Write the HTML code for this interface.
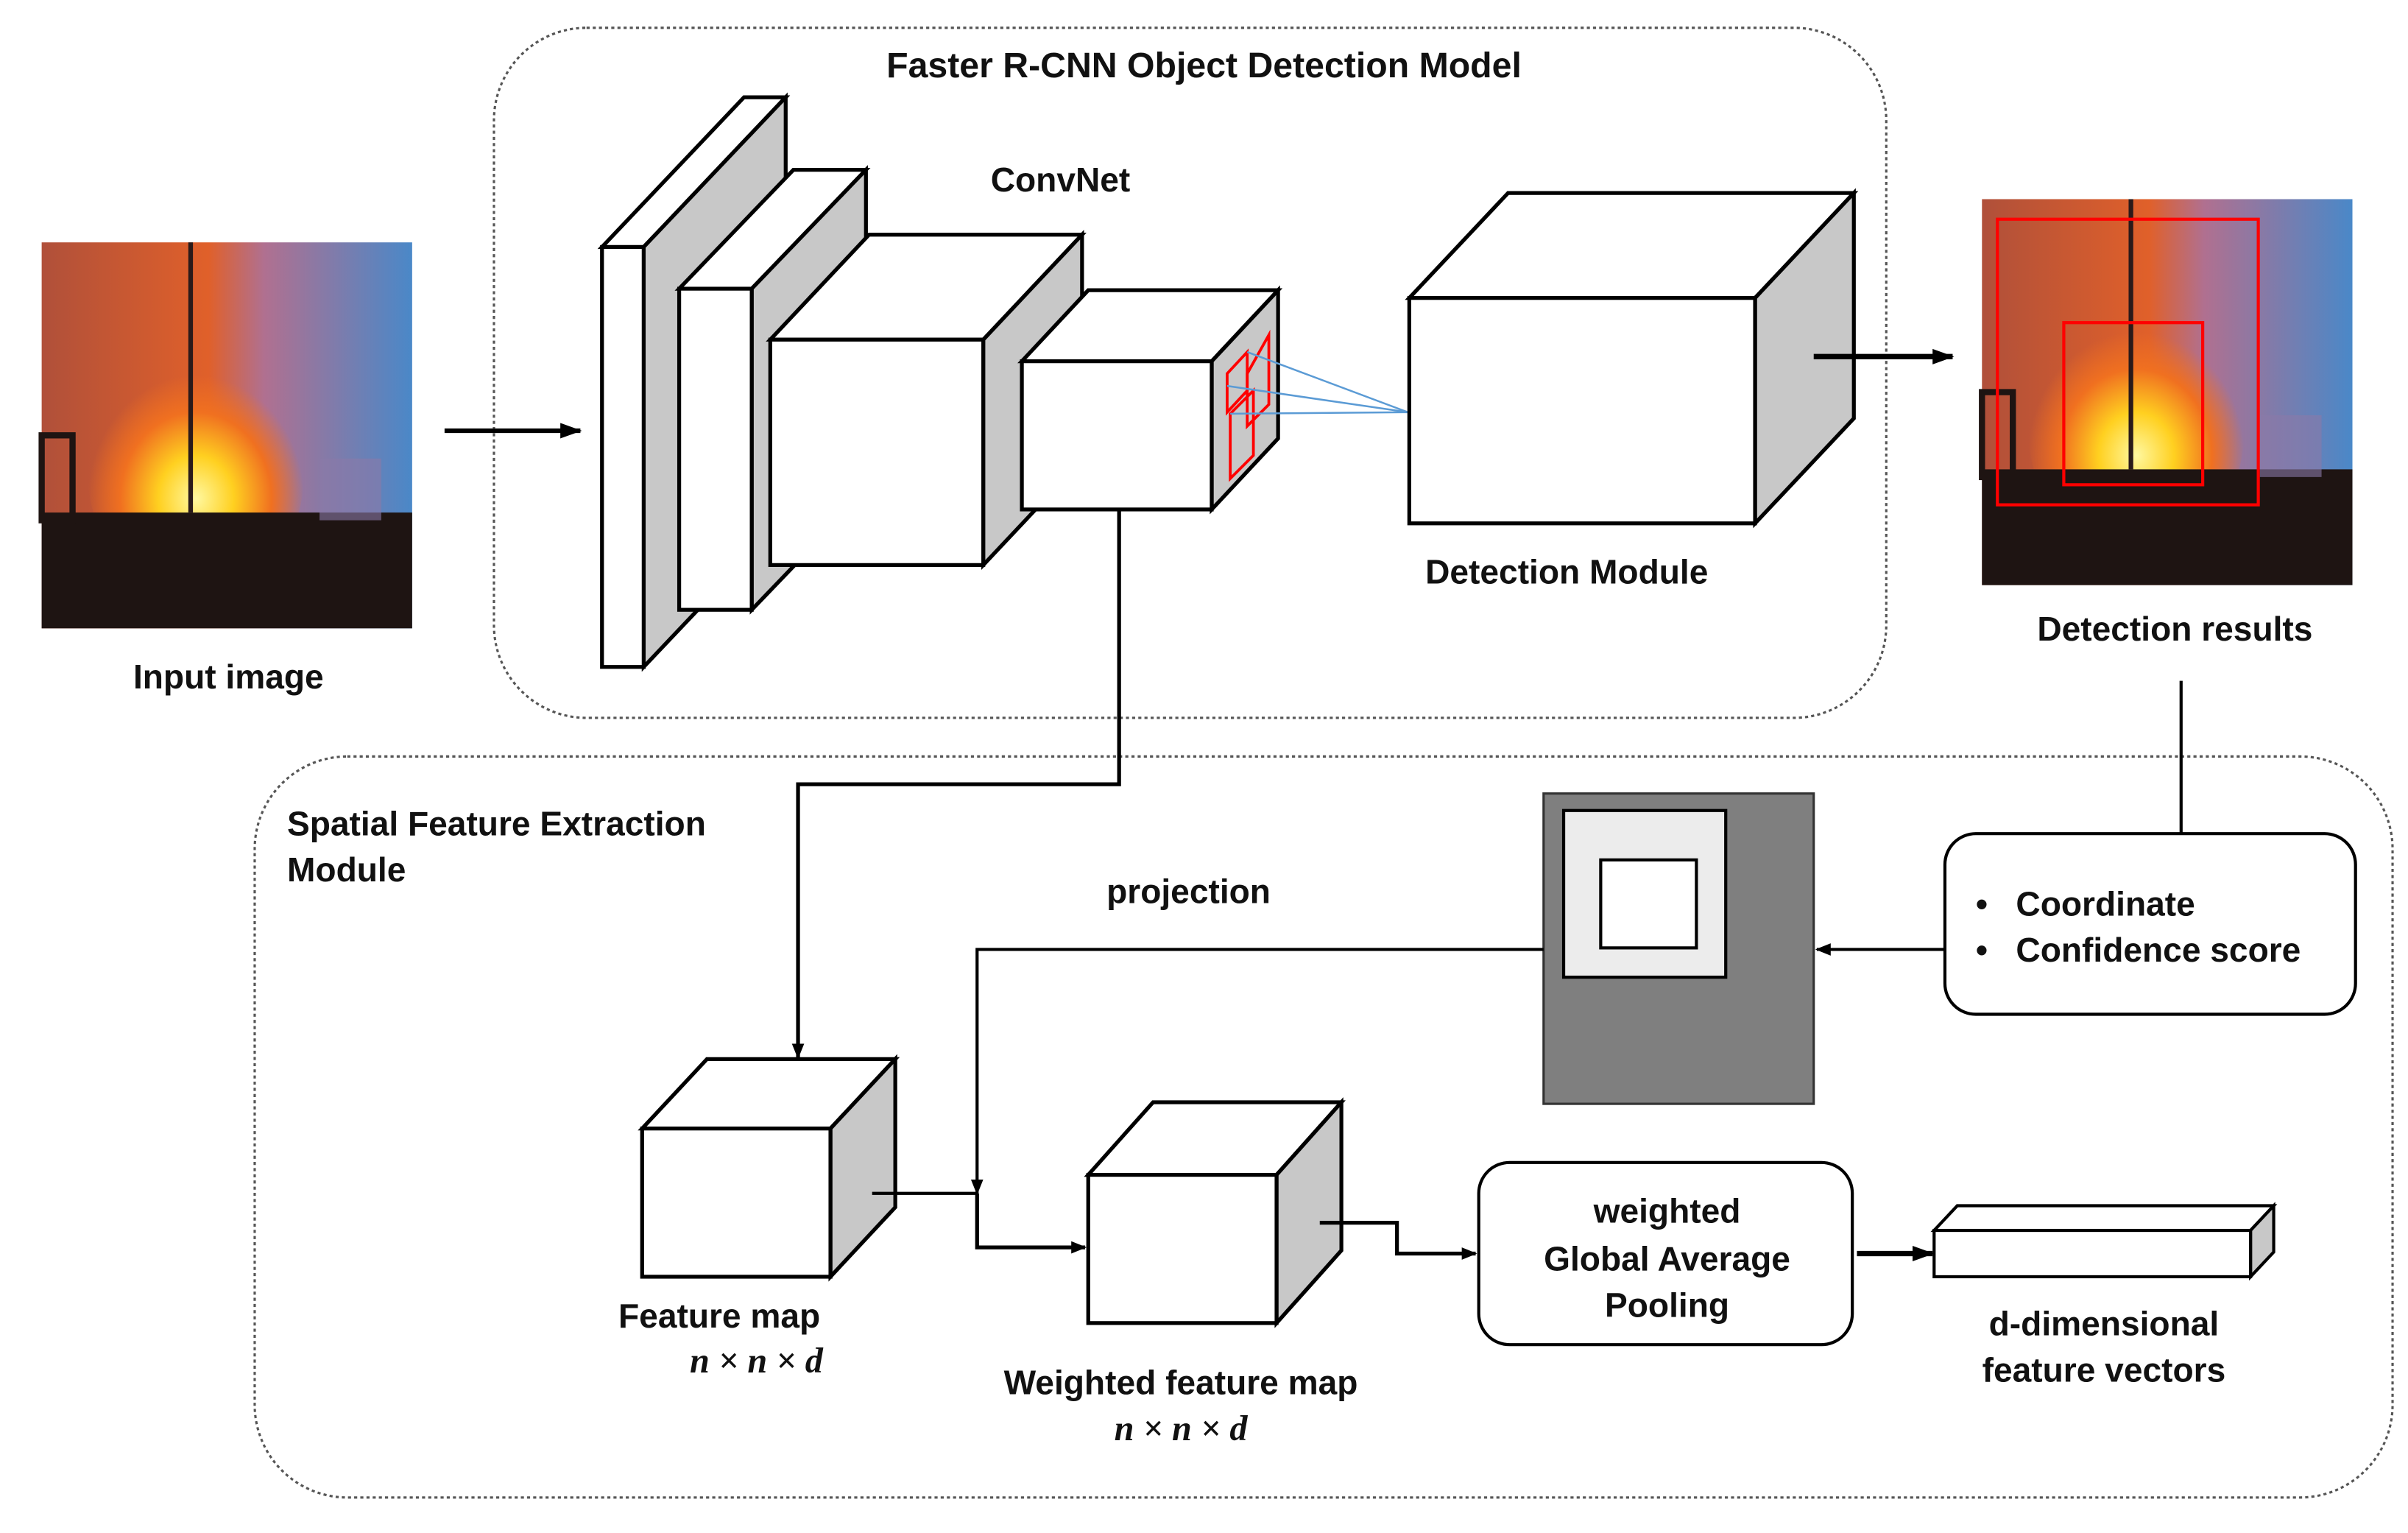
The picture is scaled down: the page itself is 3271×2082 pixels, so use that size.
<!DOCTYPE html>
<html><head><meta charset="utf-8"><style>
html,body{margin:0;padding:0;background:#fff;}
svg{display:block;}
text{font-family:"Liberation Sans",sans-serif;font-weight:bold;fill:#111;}
.m{font-family:"Liberation Serif",serif;font-style:italic;font-weight:bold;}
</style></head><body>
<svg width="3271" height="2082" viewBox="0 0 1560 993" preserveAspectRatio="none" xmlns="http://www.w3.org/2000/svg">
<defs>
<marker id="ar" markerWidth="10" markerHeight="10" refX="9" refY="5" orient="auto" markerUnits="userSpaceOnUse"><path d="M0,1 L10,5 L0,9 z" fill="#000"/></marker>
<marker id="ar2" markerWidth="14" markerHeight="12" refX="13" refY="6" orient="auto" markerUnits="userSpaceOnUse"><path d="M0,1 L14,6 L0,11 z" fill="#000"/></marker>
<linearGradient id="sky" x1="0" y1="0" x2="1" y2="0"><stop offset="0" stop-color="#b0503a"/><stop offset="0.45" stop-color="#e0602a"/><stop offset="0.6" stop-color="#b07090"/><stop offset="1" stop-color="#4a88c8"/></linearGradient>
<radialGradient id="fire" cx="0.5" cy="0.6" r="0.5"><stop offset="0" stop-color="#fff8a0"/><stop offset="0.35" stop-color="#ffd020"/><stop offset="0.7" stop-color="#f07020"/><stop offset="1" stop-color="#f07020" stop-opacity="0"/></radialGradient>
<g id="img">
<rect x="0" y="0" width="240" height="250" fill="url(#sky)"/>
<ellipse cx="100" cy="150" rx="70" ry="80" fill="url(#fire)"/>
<rect x="95" y="0" width="3" height="175" fill="#2a1a1a"/>
<rect x="0" y="175" width="240" height="75" fill="#1e1412"/>
<rect x="0" y="125" width="20" height="55" fill="none" stroke="#1e1412" stroke-width="4"/>
<rect x="180" y="140" width="40" height="40" fill="#8a7aa8" opacity="0.6"/>
</g>
</defs>

<!-- containers -->
<rect x="320" y="18" width="902" height="447" rx="60" fill="none" stroke="#555" stroke-width="1.5" stroke-dasharray="2,2"/>
<rect x="165" y="490" width="1385" height="480" rx="60" fill="none" stroke="#555" stroke-width="1.5" stroke-dasharray="2,2"/>
<text x="780" y="50" font-size="23" text-anchor="middle">Faster R-CNN Object Detection Model</text>

<!-- input image -->
<use href="#img" x="27" y="157" transform="translate(0,0)"/>
<text x="148" y="446" font-size="22" text-anchor="middle">Input image</text>
<line x1="288" y1="279" x2="376" y2="279" stroke="#000" stroke-width="3" marker-end="url(#ar2)"/>

<!-- convnet layers -->
<g stroke="#000" stroke-width="2.5" stroke-linejoin="miter">
<polygon points="390,160 482,63 509,63 417,160" fill="#fff"/>
<polygon points="417,160 509,63 509,335 417,432" fill="#c8c8c8"/>
<rect x="390" y="160" width="27" height="272" fill="#fff"/>
<polygon points="440,187 514,110 561,110 487,187" fill="#fff"/>
<polygon points="487,187 561,110 561,318 487,395" fill="#c8c8c8"/>
<rect x="440" y="187" width="47" height="208" fill="#fff"/>
<polygon points="499,220 563,152 701,152 637,220" fill="#fff"/>
<polygon points="637,220 701,152 701,298 637,366" fill="#c8c8c8"/>
<rect x="499" y="220" width="138" height="146" fill="#fff"/>
<polygon points="662,234 705,188 828,188 785,234" fill="#fff"/>
<polygon points="785,234 828,188 828,284 785,330" fill="#c8c8c8"/>
<rect x="662" y="234" width="123" height="96" fill="#fff"/>
</g>
<g stroke="#f00" stroke-width="1.8" fill="none">
<polygon points="795,242 808,228 808,253 795,267"/>
<polygon points="808,242 822,217 822,262 808,276"/>
<polygon points="797,268 812,253 812,295 797,310"/>
</g>
<g stroke="#5b9bd5" stroke-width="1.2" fill="none">
<line x1="808" y1="228" x2="912" y2="267"/>
<line x1="795" y1="250" x2="912" y2="267"/>
<line x1="797" y1="268" x2="912" y2="267"/>
</g>
<text x="687" y="124" font-size="22" text-anchor="middle">ConvNet</text>

<!-- detection module -->
<g stroke="#000" stroke-width="2.5">
<polygon points="913,193 977,125 1201,125 1137,193" fill="#fff"/>
<polygon points="1137,193 1201,125 1201,271 1137,339" fill="#c8c8c8"/>
<rect x="913" y="193" width="224" height="146" fill="#fff"/>
</g>
<text x="1015" y="378" font-size="22" text-anchor="middle">Detection Module</text>
<line x1="1175" y1="231" x2="1265" y2="231" stroke="#000" stroke-width="3.5" marker-end="url(#ar2)"/>

<!-- detection results -->
<use href="#img" x="1284" y="129"/>
<rect x="1294" y="142" width="169" height="185" fill="none" stroke="#f00" stroke-width="2"/>
<rect x="1337" y="209" width="90" height="105" fill="none" stroke="#f00" stroke-width="2"/>
<text x="1409" y="415" font-size="22" text-anchor="middle">Detection results</text>
<line x1="1413" y1="441" x2="1413" y2="540" stroke="#000" stroke-width="2"/>

<!-- coordinate box -->
<rect x="1260" y="540" width="266" height="117" rx="20" fill="#fff" stroke="#000" stroke-width="2"/>
<text x="1280" y="593" font-size="22">•</text><text x="1306" y="593" font-size="22">Coordinate</text>
<text x="1280" y="623" font-size="22">•</text><text x="1306" y="623" font-size="22">Confidence score</text>
<line x1="1260" y1="615" x2="1177" y2="615" stroke="#000" stroke-width="2" marker-end="url(#ar)"/>

<!-- pooled region -->
<rect x="1000" y="514" width="175" height="201" fill="#7f7f7f" stroke="#333" stroke-width="1.5"/>
<rect x="1013" y="525" width="105" height="108" fill="#ececec" stroke="#000" stroke-width="2"/>
<rect x="1037" y="557" width="62" height="57" fill="#fff" stroke="#000" stroke-width="2"/>
<polyline points="1000,615 633,615 633,773" fill="none" stroke="#000" stroke-width="2" marker-end="url(#ar)"/>
<text x="770" y="585" font-size="22" text-anchor="middle">projection</text>

<!-- from convnet to feature map -->
<polyline points="725,330 725,508 517,508 517,685" fill="none" stroke="#000" stroke-width="2.5" marker-end="url(#ar)"/>
<text x="186" y="541" font-size="22">Spatial Feature Extraction</text>
<text x="186" y="571" font-size="22">Module</text>

<!-- feature map cube -->
<g stroke="#000" stroke-width="2.5">
<polygon points="416,731 458,686 580,686 538,731" fill="#fff"/>
<polygon points="538,731 580,686 580,782 538,827" fill="#c8c8c8"/>
<rect x="416" y="731" width="122" height="96" fill="#fff"/>
</g>
<text x="466" y="860" font-size="22" text-anchor="middle">Feature map</text>
<text x="490" y="889" font-size="23" text-anchor="middle" class="m">n × n × d</text>
<line x1="565" y1="773" x2="633" y2="773" stroke="#000" stroke-width="2"/>
<polyline points="633,773 633,808 703,808" fill="none" stroke="#000" stroke-width="2.5" marker-end="url(#ar)"/>

<!-- weighted cube -->
<g stroke="#000" stroke-width="2.5">
<polygon points="705,761 747,714 869,714 827,761" fill="#fff"/>
<polygon points="827,761 869,714 869,810 827,857" fill="#c8c8c8"/>
<rect x="705" y="761" width="122" height="96" fill="#fff"/>
</g>
<text x="765" y="903" font-size="22" text-anchor="middle">Weighted feature map</text>
<text x="765" y="933" font-size="23" text-anchor="middle" class="m">n × n × d</text>
<polyline points="855,792 905,792 905,812 956,812" fill="none" stroke="#000" stroke-width="2.5" marker-end="url(#ar)"/>

<!-- GAP box -->
<rect x="958" y="753" width="242" height="118" rx="20" fill="#fff" stroke="#000" stroke-width="2"/>
<text x="1080" y="792" font-size="22" text-anchor="middle">weighted</text>
<text x="1080" y="823" font-size="22" text-anchor="middle">Global Average</text>
<text x="1080" y="853" font-size="22" text-anchor="middle">Pooling</text>
<line x1="1203" y1="812" x2="1252" y2="812" stroke="#000" stroke-width="3.5" marker-end="url(#ar2)"/>

<!-- vector -->
<g stroke="#000" stroke-width="2">
<polygon points="1253,797 1268,781 1473,781 1458,797" fill="#fff"/>
<polygon points="1458,797 1473,781 1473,811 1458,827" fill="#c8c8c8"/>
<rect x="1253" y="797" width="205" height="30" fill="#fff"/>
</g>
<text x="1363" y="865" font-size="22" text-anchor="middle">d-dimensional</text>
<text x="1363" y="895" font-size="22" text-anchor="middle">feature vectors</text>
</svg>
</body></html>
